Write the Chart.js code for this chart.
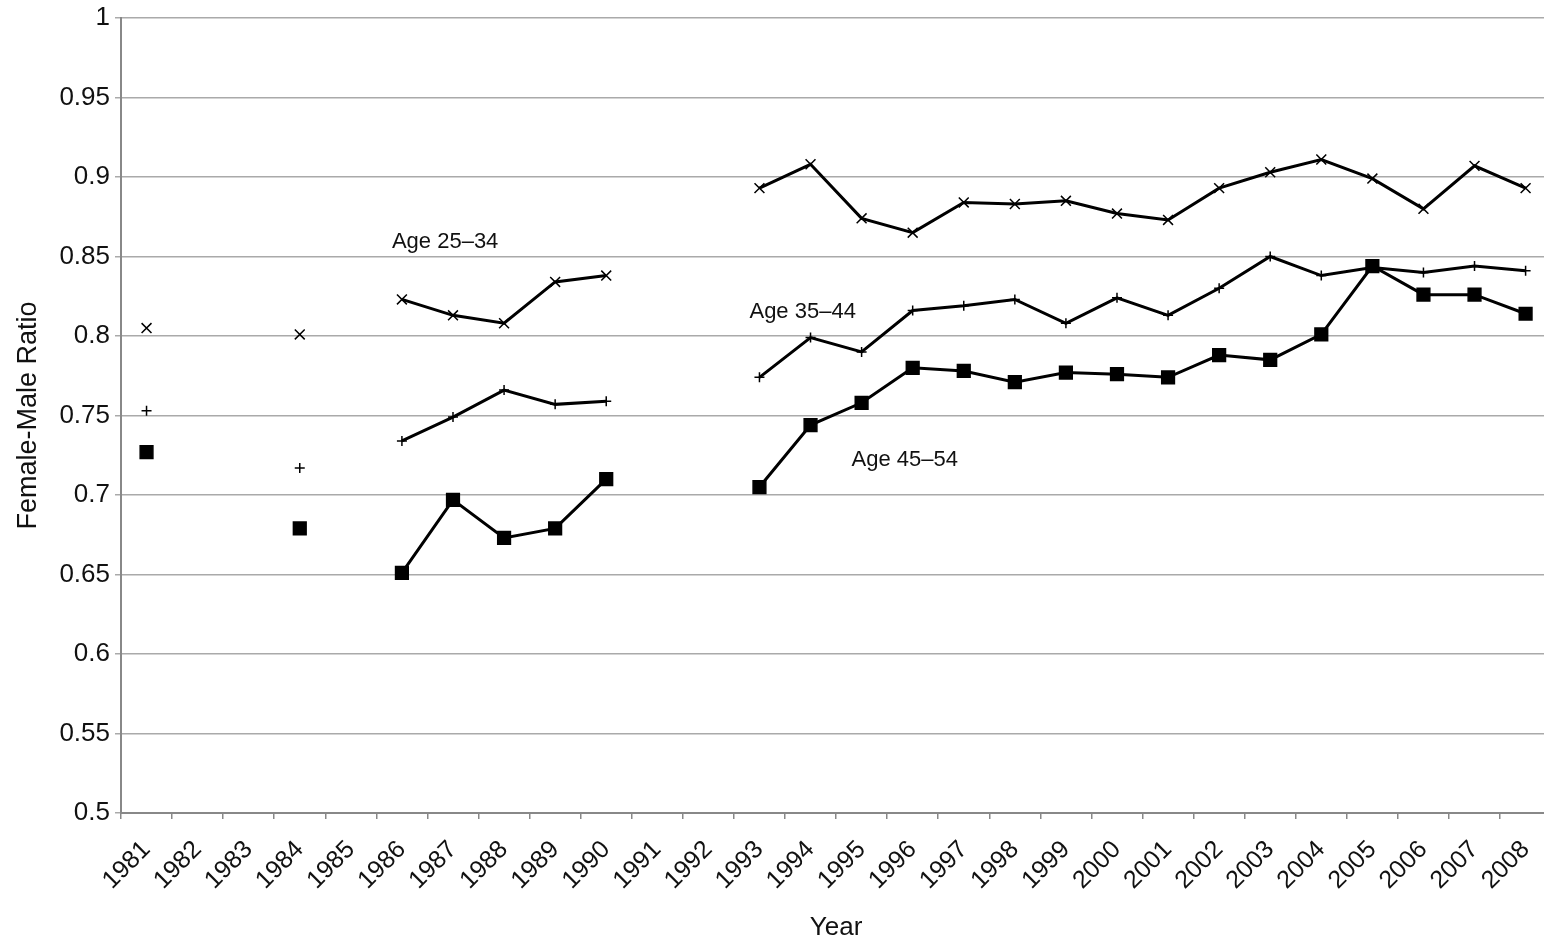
<!doctype html>
<html lang="en">

<head>
    <meta charset="utf-8">
    <title>Female-Male Ratio</title>
    <script src="https://cdn.jsdelivr.net/npm/chart.js"></script>
    <style>
        html, body { margin: 0; padding: 0; background: #fff; overflow: hidden; }
        .chartBox { width: 1563px; height: 947px; position: relative; }
    </style>
</head>

<body>
    <div class="chartBox">
        <canvas id="myChart"></canvas>
    </div>

    <script>
        // setup
        const years = ['1981', '1982', '1983', '1984', '1985', '1986', '1987', '1988', '1989', '1990',
            '1991', '1992', '1993', '1994', '1995', '1996', '1997', '1998', '1999', '2000',
            '2001', '2002', '2003', '2004', '2005', '2006', '2007', '2008'];
        const age2534 = [0.805, null, null, 0.801, null, 0.823, 0.813, 0.808, 0.834, 0.838, null, null,
            0.893, 0.908, 0.874, 0.865, 0.884, 0.883, 0.885, 0.877, 0.873, 0.893, 0.903, 0.911, 0.899, 0.880, 0.907, 0.893];
        const age3544 = [0.753, null, null, 0.717, null, 0.734, 0.749, 0.766, 0.757, 0.759, null, null,
            0.774, 0.799, 0.790, 0.816, 0.819, 0.823, 0.808, 0.824, 0.813, 0.830, 0.850, 0.838, 0.843, 0.840, 0.844, 0.841];
        const age4554 = [0.727, null, null, 0.679, null, 0.651, 0.697, 0.673, 0.679, 0.710, null, null,
            0.705, 0.744, 0.758, 0.780, 0.778, 0.771, 0.777, 0.776, 0.774, 0.788, 0.785, 0.801, 0.844, 0.826, 0.826, 0.814];

        // in-chart labels, anchored to a year and a value
        const noteTexts = ['Age 25–34', 'Age 35–44', 'Age 45–54'];
        const noteYears = ['1986', '1993', '1995'];
        const noteValues = [0.859, 0.815, 0.722];

        const fontFamily = "'Liberation Sans', Arial, sans-serif";

        const noteLabels = {
            id: 'noteLabels',
            afterDatasetsDraw(chart) {
                const { ctx, scales: { x, y } } = chart;
                ctx.save();
                ctx.fillStyle = '#111';
                ctx.font = '22px ' + fontFamily;
                ctx.textAlign = 'left';
                ctx.textBaseline = 'middle';
                noteTexts.forEach((t, i) => {
                    const px = x.getPixelForValue(years.indexOf(noteYears[i])) - 10;
                    ctx.fillText(t, px, y.getPixelForValue(noteValues[i]));
                });
                ctx.restore();
            }
        };

        const line = (label, values, style, radius) => ({
            label: label,
            data: values,
            borderColor: '#000',
            backgroundColor: '#000',
            borderWidth: 3,
            pointStyle: style,
            pointRadius: radius,
            pointBorderWidth: 1.5,
            pointBorderColor: '#000',
            pointBackgroundColor: '#000',
            spanGaps: false,
            tension: 0
        });

        const data = {
            labels: years,
            datasets: [
                line('Age 25–34', age2534, 'crossRot', 7),
                line('Age 35–44', age3544, 'cross', 5),
                line('Age 45–54', age4554, 'rect', 9)
            ]
        };

        // config
        const config = {
            type: 'line',
            data,
            options: {
                responsive: true,
                maintainAspectRatio: false,
                animation: false,
                layout: { padding: { top: 17, right: 2, bottom: 0, left: 1 } },
                plugins: {
                    legend: { display: false },
                    tooltip: { enabled: false }
                },
                scales: {
                    x: {
                        offset: true,
                        grid: {
                            offset: true,
                            drawOnChartArea: false,
                            drawTicks: true,
                            tickLength: 6,
                            color: '#888',
                            lineWidth: 1.5
                        },
                        border: { color: '#888', width: 2 },
                        ticks: {
                            autoSkip: false,
                            maxRotation: 45,
                            minRotation: 45,
                            padding: 16,
                            color: '#111',
                            font: { family: fontFamily, size: 25 }
                        },
                        title: {
                            display: true,
                            text: 'Year',
                            color: '#111',
                            padding: { top: 0, bottom: 4 },
                            font: { family: fontFamily, size: 26 }
                        },
                        afterFit(scale) { scale.height = 134; }
                    },
                    y: {
                        min: 0.5,
                        max: 1,
                        ticks: {
                            stepSize: 0.05,
                            padding: 5,
                            color: '#111',
                            font: { family: fontFamily, size: 26, lineHeight: 1 },
                            callback: (v) => String(Number(v.toFixed(2)))
                        },
                        grid: {
                            color: '#aaa',
                            lineWidth: 1.5,
                            tickLength: 6
                        },
                        border: { color: '#888', width: 2 },
                        title: {
                            display: true,
                            text: 'Female-Male Ratio',
                            color: '#111',
                            padding: { top: 11, bottom: 0 },
                            font: { family: fontFamily, size: 27 }
                        },
                        afterFit(scale) { scale.width = 120; }
                    }
                }
            },
            plugins: [noteLabels]
        };

        // render init block
        const myChart = new Chart(
            document.getElementById('myChart'),
            config
        );
    </script>

</body>

</html>
